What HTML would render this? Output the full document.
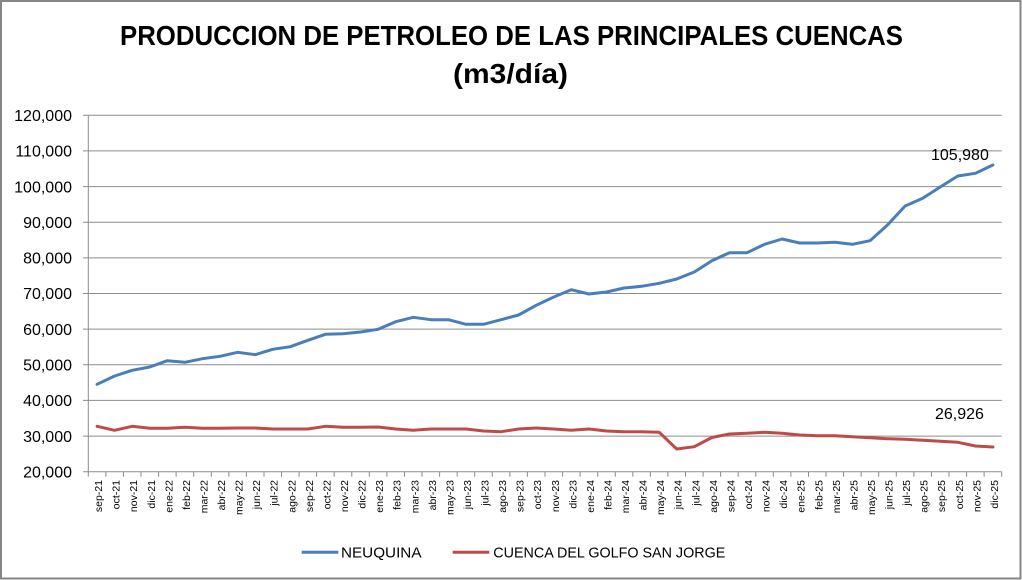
<!DOCTYPE html>
<html><head><meta charset="utf-8"><style>
html,body{margin:0;padding:0;background:#fff;}
svg{display:block;}
text{font-family:"Liberation Sans",Arial,sans-serif;fill:#000;}
</style></head><body>
<svg width="1022" height="580" viewBox="0 0 1022 580" xmlns="http://www.w3.org/2000/svg">
<rect x="0" y="0" width="1022" height="580" fill="#fff"/>
<rect x="1" y="1" width="1019.5" height="577.5" fill="none" stroke="#868686" stroke-width="2"/>
<text x="511.5" y="45" font-size="28" font-weight="bold" text-anchor="middle" textLength="783" lengthAdjust="spacingAndGlyphs">PRODUCCION DE PETROLEO DE LAS PRINCIPALES CUENCAS</text>
<text x="510.5" y="83" font-size="28" font-weight="bold" text-anchor="middle" textLength="115" lengthAdjust="spacingAndGlyphs">(m3/día)</text>
<g stroke="#8c8c8c" stroke-width="1" fill="none">
<path d="M83 115.3H1001.7M83 150.9H1001.7M83 186.6H1001.7M83 222.2H1001.7M83 257.9H1001.7M83 293.5H1001.7M83 329.1H1001.7M83 364.8H1001.7M83 400.4H1001.7M83 436.1H1001.7M83 471.7H1001.7"/>
<path d="M88.3 115.3V471.7"/>
<path d="M88.3 471.7v5M105.9 471.7v5M123.4 471.7v5M141 471.7v5M158.6 471.7v5M176.1 471.7v5M193.7 471.7v5M211.3 471.7v5M228.8 471.7v5M246.4 471.7v5M264 471.7v5M281.5 471.7v5M299.1 471.7v5M316.6 471.7v5M334.2 471.7v5M351.8 471.7v5M369.3 471.7v5M386.9 471.7v5M404.5 471.7v5M422 471.7v5M439.6 471.7v5M457.2 471.7v5M474.7 471.7v5M492.3 471.7v5M509.9 471.7v5M527.4 471.7v5M545 471.7v5M562.6 471.7v5M580.1 471.7v5M597.7 471.7v5M615.3 471.7v5M632.8 471.7v5M650.4 471.7v5M667.9 471.7v5M685.5 471.7v5M703.1 471.7v5M720.6 471.7v5M738.2 471.7v5M755.8 471.7v5M773.3 471.7v5M790.9 471.7v5M808.5 471.7v5M826 471.7v5M843.6 471.7v5M861.2 471.7v5M878.7 471.7v5M896.3 471.7v5M913.9 471.7v5M931.4 471.7v5M949 471.7v5M966.6 471.7v5M984.1 471.7v5M1001.7 471.7v5"/>
</g>
<g font-size="16" text-anchor="end">
<text x="72" y="121">120,000</text>
<text x="72" y="156.6">110,000</text>
<text x="72" y="192.3">100,000</text>
<text x="72" y="227.9">90,000</text>
<text x="72" y="263.6">80,000</text>
<text x="72" y="299.2">70,000</text>
<text x="72" y="334.8">60,000</text>
<text x="72" y="370.5">50,000</text>
<text x="72" y="406.1">40,000</text>
<text x="72" y="441.8">30,000</text>
<text x="72" y="477.4">20,000</text>
</g>
<g font-size="10.5" text-anchor="end">
<text transform="translate(102.1,480) rotate(-90)">sep-21</text>
<text transform="translate(119.6,480) rotate(-90)">oct-21</text>
<text transform="translate(137.2,480) rotate(-90)">nov-21</text>
<text transform="translate(154.8,480) rotate(-90)">dic-21</text>
<text transform="translate(172.3,480) rotate(-90)">ene-22</text>
<text transform="translate(189.9,480) rotate(-90)">feb-22</text>
<text transform="translate(207.5,480) rotate(-90)">mar-22</text>
<text transform="translate(225,480) rotate(-90)">abr-22</text>
<text transform="translate(242.6,480) rotate(-90)">may-22</text>
<text transform="translate(260.2,480) rotate(-90)">jun-22</text>
<text transform="translate(277.7,480) rotate(-90)">jul-22</text>
<text transform="translate(295.3,480) rotate(-90)">ago-22</text>
<text transform="translate(312.9,480) rotate(-90)">sep-22</text>
<text transform="translate(330.4,480) rotate(-90)">oct-22</text>
<text transform="translate(348,480) rotate(-90)">nov-22</text>
<text transform="translate(365.6,480) rotate(-90)">dic-22</text>
<text transform="translate(383.1,480) rotate(-90)">ene-23</text>
<text transform="translate(400.7,480) rotate(-90)">feb-23</text>
<text transform="translate(418.3,480) rotate(-90)">mar-23</text>
<text transform="translate(435.8,480) rotate(-90)">abr-23</text>
<text transform="translate(453.4,480) rotate(-90)">may-23</text>
<text transform="translate(471,480) rotate(-90)">jun-23</text>
<text transform="translate(488.5,480) rotate(-90)">jul-23</text>
<text transform="translate(506.1,480) rotate(-90)">ago-23</text>
<text transform="translate(523.6,480) rotate(-90)">sep-23</text>
<text transform="translate(541.2,480) rotate(-90)">oct-23</text>
<text transform="translate(558.8,480) rotate(-90)">nov-23</text>
<text transform="translate(576.3,480) rotate(-90)">dic-23</text>
<text transform="translate(593.9,480) rotate(-90)">ene-24</text>
<text transform="translate(611.5,480) rotate(-90)">feb-24</text>
<text transform="translate(629,480) rotate(-90)">mar-24</text>
<text transform="translate(646.6,480) rotate(-90)">abr-24</text>
<text transform="translate(664.2,480) rotate(-90)">may-24</text>
<text transform="translate(681.7,480) rotate(-90)">jun-24</text>
<text transform="translate(699.3,480) rotate(-90)">jul-24</text>
<text transform="translate(716.9,480) rotate(-90)">ago-24</text>
<text transform="translate(734.4,480) rotate(-90)">sep-24</text>
<text transform="translate(752,480) rotate(-90)">oct-24</text>
<text transform="translate(769.6,480) rotate(-90)">nov-24</text>
<text transform="translate(787.1,480) rotate(-90)">dic-24</text>
<text transform="translate(804.7,480) rotate(-90)">ene-25</text>
<text transform="translate(822.3,480) rotate(-90)">feb-25</text>
<text transform="translate(839.8,480) rotate(-90)">mar-25</text>
<text transform="translate(857.4,480) rotate(-90)">abr-25</text>
<text transform="translate(875,480) rotate(-90)">may-25</text>
<text transform="translate(892.5,480) rotate(-90)">jun-25</text>
<text transform="translate(910.1,480) rotate(-90)">jul-25</text>
<text transform="translate(927.7,480) rotate(-90)">ago-25</text>
<text transform="translate(945.2,480) rotate(-90)">sep-25</text>
<text transform="translate(962.8,480) rotate(-90)">oct-25</text>
<text transform="translate(980.4,480) rotate(-90)">nov-25</text>
<text transform="translate(997.9,480) rotate(-90)">dic-25</text>
</g>
<polyline fill="none" stroke="#4A7EBB" stroke-width="3" stroke-linejoin="round" stroke-linecap="round" points="97.1,384.3 114.6,376 132.2,370.3 149.8,367 167.3,360.7 184.9,362.3 202.5,358.7 220,356.3 237.6,352.3 255.2,354.7 272.7,349.3 290.3,346.7 307.9,340.3 325.4,334.3 343,333.7 360.6,332 378.1,329.3 395.7,321.7 413.3,317.3 430.8,319.7 448.4,319.7 466,324.3 483.5,324.3 501.1,319.7 518.6,315 536.2,305.3 553.8,297 571.3,289.7 588.9,294 606.5,292 624,288 641.6,286.3 659.2,283.3 676.7,279 694.3,272 711.9,260.7 729.4,252.7 747,252.7 764.6,244.3 782.1,239 799.7,243 817.3,243 834.8,242.3 852.4,244.3 870,240.7 887.5,225 905.1,206 922.7,198.3 940.2,187 957.8,176 975.4,173.3 992.9,165"/>
<polyline fill="none" stroke="#BE4B48" stroke-width="3" stroke-linejoin="round" stroke-linecap="round" points="97.1,426.3 114.6,430.3 132.2,426.3 149.8,428.3 167.3,428.3 184.9,427.3 202.5,428.3 220,428.3 237.6,428 255.2,428 272.7,429 290.3,429 307.9,429 325.4,426.3 343,427.3 360.6,427.3 378.1,427 395.7,429 413.3,430.3 430.8,429 448.4,429 466,429 483.5,431 501.1,431.7 518.6,429 536.2,428 553.8,429 571.3,430.3 588.9,429 606.5,431 624,431.7 641.6,431.7 659.2,432.3 676.7,449 694.3,446.7 711.9,437.5 729.4,434 747,433.3 764.6,432.3 782.1,433.3 799.7,435 817.3,435.7 834.8,435.7 852.4,436.7 870,437.7 887.5,438.7 905.1,439.3 922.7,440.3 940.2,441.3 957.8,442.3 975.4,446 992.9,447"/>
<text x="931" y="160" font-size="16">105,980</text>
<text x="935" y="419" font-size="16">26,926</text>
<line x1="301.7" y1="552.3" x2="338.3" y2="552.3" stroke="#4A7EBB" stroke-width="3"/>
<text x="341" y="557.5" font-size="15" textLength="80.5" lengthAdjust="spacingAndGlyphs">NEUQUINA</text>
<line x1="452.7" y1="552.3" x2="489.3" y2="552.3" stroke="#BE4B48" stroke-width="3"/>
<text x="493.3" y="557.5" font-size="15" textLength="232" lengthAdjust="spacingAndGlyphs">CUENCA DEL GOLFO SAN JORGE</text>
</svg>
</body></html>
